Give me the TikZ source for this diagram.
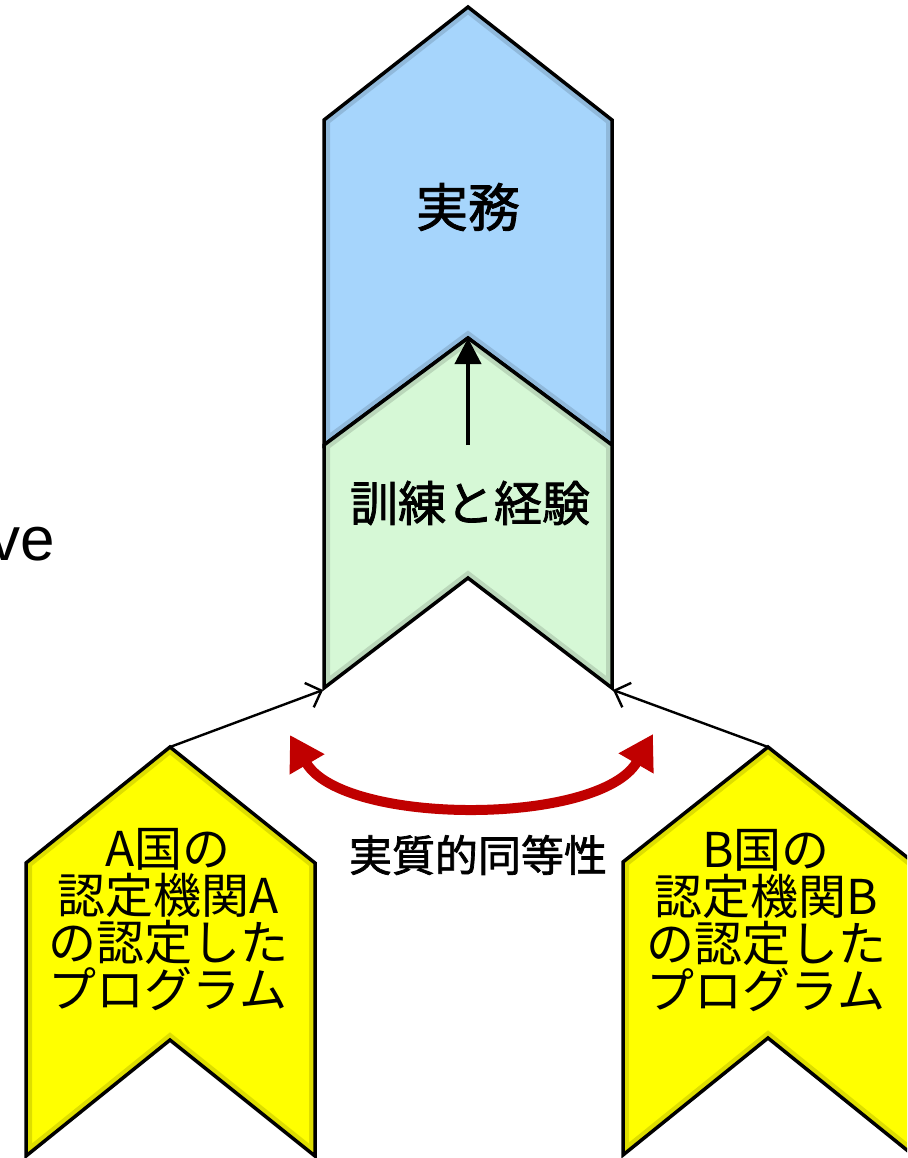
\documentclass[tikz,border=0pt]{standalone}
\usepackage{fontspec}
\setmainfont{Liberation Sans}
\newfontfamily\jp{Noto Sans CJK JP}
\newfontfamily\jpm[FakeBold=1.6]{Noto Sans CJK JP}
\usetikzlibrary{arrows.meta}
\definecolor{cblue}{HTML}{A6D5FC}
\definecolor{cgreen}{HTML}{D6F8D6}
\definecolor{cyellow}{HTML}{FFFF00}
\definecolor{cred}{HTML}{C00000}
\tikzset{
  chev/.style={draw=black, line width=3.5pt, line join=miter},
  bevel/.style={draw=black, line width=12pt, opacity=0.13},
  thinarrow/.style={draw=black, line width=2.4pt, -{Straight Barb[length=13pt,width=26pt,line width=2.4pt]}},
  uparrow/.style={draw=black, line width=4pt, -{Triangle[length=26pt,width=26pt]}},
  redarc/.style={draw=cred, line width=10pt, {Triangle[length=34pt,width=38pt]}-{Triangle[length=34pt,width=38pt]}},
  yeltext/.style={font=\jp\fontsize{48}{47}\selectfont, align=center, inner sep=0pt},
}
\begin{document}
\begin{tikzpicture}[x=1pt,y=-1pt]
\useasboundingbox (0,0) rectangle (907,1158);
\clip (0,0) rectangle (907,1158);
% blue chevron
\def\pblue{(324,120) -- (468,7) -- (612,120) -- (612,445) -- (468,338) -- (324,445) -- cycle}
\fill[cblue] \pblue;
\begin{scope}\clip \pblue; \draw[bevel] \pblue; \end{scope}
\draw[chev] \pblue;
% green chevron
\def\pgreen{(324,445) -- (468,338) -- (612,445) -- (612,688) -- (468,578) -- (324,688) -- cycle}
\fill[cgreen] \pgreen;
\begin{scope}\clip \pgreen; \draw[bevel] \pgreen; \end{scope}
\draw[chev] \pgreen;
% yellow A
\def\pya{(26,863) -- (170,747) -- (315,863) -- (315,1156) -- (170,1040) -- (26,1156) -- cycle}
\fill[cyellow] \pya;
\begin{scope}\clip \pya; \draw[bevel] \pya; \end{scope}
\draw[chev] \pya;
% yellow B
\def\pyb{(623,862) -- (768,747) -- (913,862) -- (913,1155) -- (768,1038) -- (623,1155) -- cycle}
\fill[cyellow] \pyb;
\begin{scope}\clip \pyb; \draw[bevel] \pyb; \end{scope}
\draw[chev] \pyb;
% named points
\coordinate (gl) at (323,690);
\coordinate (gr) at (613,690);
\coordinate (atop) at (170,747);
\coordinate (btop) at (768,747);
\coordinate (gtip) at (468,338);
\coordinate (gin) at (468,445);
\coordinate (rl) at (290,735);
\coordinate (rr) at (653,734);
% texts
\node[font=\jpm\fontsize{52}{54}\selectfont, inner sep=0pt] (jitsumu) at (468,207) {実務};
\node[font=\jpm\fontsize{48}{50}\selectfont, inner sep=0pt] (kunren) at (470,503) {訓練と経験};
\node[font=\jpm\fontsize{43}{45}\selectfont, inner sep=0pt] (dotou) at (478,855) {実質的同等性};
\node[yeltext] (progA) at (168,920) {A国の\\認定機関A\\の認定した\\プログラム};
\node[yeltext] (progB) at (766,921) {B国の\\認定機関B\\の認定した\\プログラム};
\node[font=\fontsize{62}{64}\selectfont, anchor=base east, inner sep=0pt] (ve) at (55,560) {ve};
% arrows
\draw[uparrow] (gin) -- (gtip);
\draw[thinarrow] (atop) -- (gl);
\draw[thinarrow] (btop) -- (gr);
\draw[redarc] (rl) .. controls (343,826) and (600,826) .. (rr);
\end{tikzpicture}
\end{document}
